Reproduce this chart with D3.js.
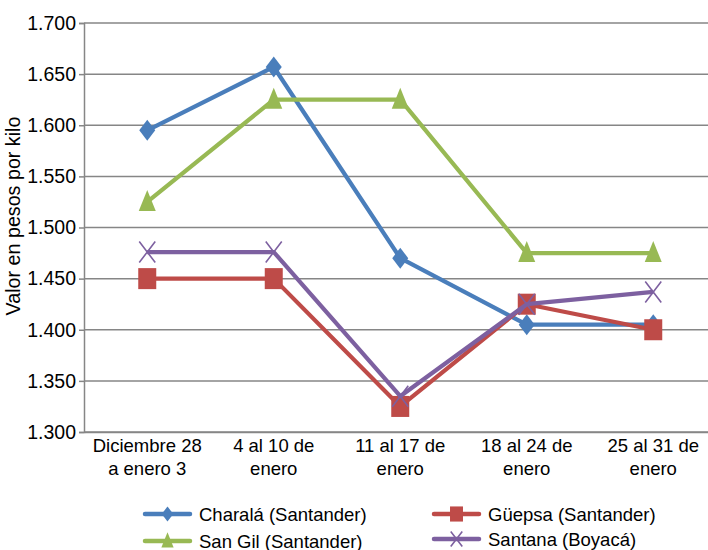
<!DOCTYPE html>
<html><head><meta charset="utf-8">
<script src="https://cdn.jsdelivr.net/npm/d3@7"></script>
<style>body{margin:0;background:#fff}svg{display:block}text{font-family:"Liberation Sans",Arial,sans-serif;fill:#000}</style>
</head><body><svg id="c" width="708" height="550"></svg>
<script>
const categories = [["Diciembre 28","a enero 3"],["4 al 10 de","enero"],["11 al 17 de","enero"],["18 al 24 de","enero"],["25 al 31 de","enero"]];
const seriesNames = ["Charalá (Santander)","Güepsa (Santander)","San Gil (Santander)","Santana (Boyacá)"];
const charala = [1.595,1.657,1.470,1.405,1.405];
const guepsa = [1.450,1.450,1.325,1.425,1.400];
const sanGil = [1.525,1.625,1.625,1.475,1.475];
const santana = [1.476,1.476,1.335,1.425,1.437];
const yTicks = [1.3,1.35,1.4,1.45,1.5,1.55,1.6,1.65,1.7];
const yLabel = "Valor en pesos por kilo";

const colors = ["#4a7ebb","#be4b48","#98b954","#7d60a0"];
const markers = ["diamond","square","triangle","x"];
const seriesData = [charala,guepsa,sanGil,santana];

const svg = d3.select("#c");
const x = d3.scaleBand().domain(d3.range(categories.length)).range([84,716.5]);
const y = d3.scaleLinear().domain([1.3,1.7]).range([432,23]);

// gridlines
svg.append("g").selectAll("line").data(yTicks).join("line")
  .attr("x1",84).attr("x2",708).attr("y1",d=>y(d)).attr("y2",d=>y(d))
  .attr("stroke","#868686").attr("stroke-width",1.5);

// y axis
const ya = svg.append("g").attr("transform","translate(84,0)")
  .call(d3.axisLeft(y).tickValues(yTicks).tickSize(5).tickPadding(3).tickFormat(d3.format(".3f")));
ya.select(".domain").attr("stroke","#868686").attr("stroke-width",1.5);
ya.selectAll(".tick line").attr("stroke","#868686").attr("stroke-width",1.5);
ya.selectAll("text").attr("font-size",19.5).attr("font-family","Liberation Sans, Arial, sans-serif").attr("fill","#000");

// x axis
const xa = svg.append("g").attr("transform","translate(0,432)")
  .call(d3.axisBottom(x).tickSize(0).tickFormat(""));
xa.select(".domain").attr("stroke","#868686").attr("stroke-width",1.5);
xa.selectAll(".tick").each(function(d){
  const t = d3.select(this).append("text").attr("text-anchor","middle").attr("font-size",18.5).attr("fill","#000");
  categories[d].forEach((s,i)=>t.append("tspan").attr("x",0).attr("y",20+i*23).text(s));
});

// y label
svg.append("text").attr("transform","translate(20,216) rotate(-90)").attr("text-anchor","middle")
  .attr("font-size",19.7).text(yLabel);

function drawMarker(g, type, cx, cy, color, sc){
  if(type==="diamond"){
    const w=8*sc,h=10.5*sc;
    g.append("path").attr("d",`M${cx},${cy-h}L${cx+w},${cy}L${cx},${cy+h}L${cx-w},${cy}Z`).attr("fill",color);
  } else if(type==="square"){
    const w=9*sc,h=10.5*sc;
    g.append("rect").attr("x",cx-w).attr("y",cy-h).attr("width",2*w).attr("height",2*h).attr("fill",color);
  } else if(type==="triangle"){
    const w=8.5*sc;
    g.append("path").attr("d",`M${cx},${cy-12*sc}L${cx+w},${cy+9*sc}L${cx-w},${cy+9*sc}Z`).attr("fill",color);
  } else {
    const w=8*sc,h=10.5*sc;
    g.append("path").attr("d",`M${cx-w},${cy-h}L${cx+w},${cy+h}M${cx-w},${cy+h}L${cx+w},${cy-h}`).attr("stroke",color).attr("stroke-width",1.6).attr("fill","none");
  }
}

const line = d3.line().x((d,i)=>x(i)+x.bandwidth()/2).y(d=>y(d));
seriesData.forEach((vals,k)=>{
  const g = svg.append("g");
  g.append("path").datum(vals).attr("d",line).attr("fill","none").attr("stroke",colors[k]).attr("stroke-width",4.2).attr("stroke-linejoin","round");
  vals.forEach((v,i)=>drawMarker(g,markers[k],x(i)+x.bandwidth()/2,y(v),colors[k],1));
});

// legend
const legPos = [[145,514],[434,514],[145,541],[434,539]];
seriesNames.forEach((n,k)=>{
  const [lx,ly] = legPos[k];
  const g = svg.append("g");
  g.append("line").attr("x1",lx).attr("x2",lx+45).attr("y1",ly).attr("y2",ly).attr("stroke",colors[k]).attr("stroke-width",4.5).attr("stroke-linecap","round");
  drawMarker(g,markers[k],lx+22.5,ly,colors[k],0.72);
  g.append("text").attr("x",lx+54).attr("y",ly+6.5).attr("font-size",18.5).text(n);
});
</script></body></html>
